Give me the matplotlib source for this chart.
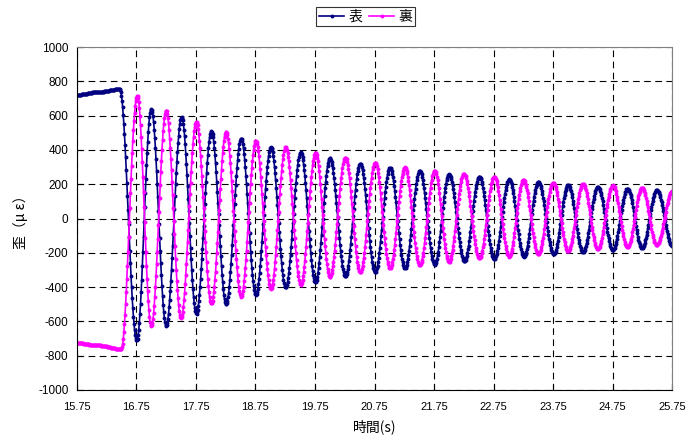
import matplotlib
matplotlib.use("Agg")
import matplotlib.pyplot as plt
import numpy as np

# 表 (front) : turning points (time s, strain)
omote_t = [15.75, 16.10, 16.47, 16.757, 17.00, 17.25, 17.51, 17.757, 18.01, 18.257,
           18.51, 18.757, 19.01, 19.257, 19.51, 19.757, 20.00, 20.26, 20.51, 20.76,
           21.01, 21.26, 21.51, 21.76, 22.00, 22.26, 22.51, 22.76, 23.01, 23.26,
           23.50, 23.76, 24.00, 24.25, 24.50, 24.75, 25.00, 25.24, 25.49, 25.75]
omote_v = [722, 738, 755, -710, 640, -626, 592, -555, 510, -500,
           467, -445, 416, -402, 387, -372, 353, -337, 320, -313,
           297, -290, 278, -270, 258, -247, 245, -237, 229, -222,
           213, -208, 196, -197, 185, -183, 175, -174, 165, -160]

# 裏 (back)
ura_t = [15.75, 16.10, 16.495, 16.765, 17.00, 17.25, 17.50, 17.757, 18.01, 18.257,
         18.51, 18.757, 19.01, 19.257, 19.51, 19.76, 20.00, 20.26, 20.51, 20.76,
         21.01, 21.26, 21.51, 21.76, 22.00, 22.25, 22.51, 22.76, 23.01, 23.25,
         23.50, 23.75, 24.00, 24.25, 24.50, 24.75, 25.00, 25.24, 25.49, 25.75]
ura_v = [-727, -740, -762, 717, -628, 630, -582, 566, -495, 506,
         -456, 452, -410, 417, -386, 383, -341, 356, -315, 326,
         -290, 299, -274, 280, -253, 262, -233, 245, -222, 225,
         -208, 210, -192, 203, -179, 194, -169, 181, -155, 161]

x_ticks = [15.75, 16.75, 17.75, 18.75, 19.75, 20.75, 21.75, 22.75, 23.75, 24.75, 25.75]
y_ticks = list(range(-1000, 1001, 200))

DT = 0.01  # logger sampling step


def trace(kt, kv):
    # sampled trace between the turning points (half-cosine shape)
    kt = np.asarray(kt)
    kv = np.asarray(kv, dtype=float)
    t = np.round(np.arange(kt[0], kt[-1] + DT / 2, DT), 4)
    i = np.clip(np.searchsorted(kt, t, side="right") - 1, 0, len(kt) - 2)
    f = (t - kt[i]) / (kt[i + 1] - kt[i])
    return t, kv[i] + (kv[i + 1] - kv[i]) * (1 - np.cos(np.pi * f)) / 2


jp = ["Noto Sans CJK JP", "DejaVu Sans"]
num = ["Liberation Sans", "DejaVu Sans"]

fig = plt.figure(figsize=(6.86, 4.41), dpi=100)
ax = fig.add_axes([0.112, 0.116, 0.868, 0.777])

t1, v1 = trace(omote_t, omote_v)
t2, v2 = trace(ura_t, ura_v)
ax.plot(t1, v1, color="#000080", lw=1.2, marker="o", ms=2.8, mew=0, label="表")
ax.plot(t2, v2, color="#FF00FF", lw=1.2, marker="o", ms=2.8, mew=0, label="裏")

ax.set_xlim(15.75, 25.75)
ax.set_ylim(-1000, 1000)
ax.set_xticks(x_ticks)
ax.set_yticks(y_ticks)
ax.set_xticklabels([f"{v:.2f}" for v in x_ticks], family=num, fontsize=8)
ax.set_yticklabels([str(v) for v in y_ticks], family=num, fontsize=8.5)
ax.tick_params(direction="in", length=4, width=0.8)
ax.tick_params(axis="x", pad=9)
ax.tick_params(axis="y", pad=6)
ax.grid(True, color="black", ls=(0, (6, 4)), lw=0.8)
ax.set_axisbelow(True)
for s in ["left", "bottom"]:
    ax.spines[s].set_color("black")
for s in ["top", "right"]:
    ax.spines[s].set_color("#808080")

ax.set_xlabel("時間(s)", family=jp, fontsize=10, labelpad=5)
ax.set_ylabel("歪（μ ε）", family=jp, fontsize=10, labelpad=7)

leg = ax.legend(loc="upper center", bbox_to_anchor=(0.485, 1.118), ncol=2,
                prop={"family": jp, "size": 10}, frameon=True, fancybox=False,
                edgecolor="black", handlelength=1.8, handletextpad=0.3,
                columnspacing=0.5, borderpad=0.2, borderaxespad=0)
leg.get_frame().set_linewidth(0.8)

fig.savefig("out.png", dpi=100)
